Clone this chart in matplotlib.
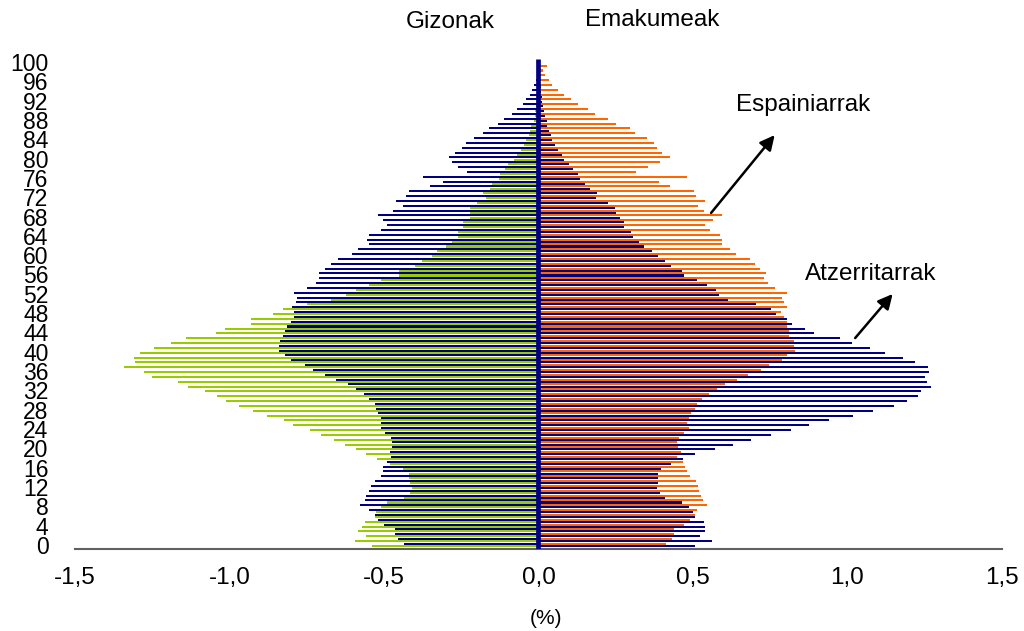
import matplotlib
matplotlib.use("Agg")
import matplotlib.pyplot as plt
from matplotlib.ticker import FuncFormatter

plt.rcParams['font.family'] = ['Liberation Sans', 'DejaVu Sans']
plt.rcParams['axes.unicode_minus'] = False

# ages 0..100
ages = list(range(101))

# Gizonak (men), % of population
men_spanish = [
    0.396, 0.435, 0.454, 0.465, 0.465, 0.500, 0.519, 0.530, 0.547, 0.577,
    0.560, 0.558, 0.547, 0.543, 0.530, 0.511, 0.504, 0.504, 0.489, 0.477,
    0.480, 0.474, 0.474, 0.477, 0.496, 0.508, 0.508, 0.511, 0.519, 0.526,
    0.530, 0.547, 0.566, 0.592, 0.616, 0.654, 0.690, 0.730, 0.757, 0.800,
    0.820, 0.840, 0.840, 0.838, 0.826, 0.820, 0.815, 0.800, 0.790, 0.790,
    0.796, 0.785, 0.780, 0.790, 0.750, 0.720, 0.710, 0.710, 0.690, 0.670,
    0.650, 0.605, 0.585, 0.550, 0.555, 0.550, 0.510, 0.490, 0.504, 0.520,
    0.470, 0.440, 0.460, 0.430, 0.420, 0.350, 0.310, 0.375, 0.230, 0.260,
    0.280, 0.290, 0.270, 0.247, 0.235, 0.210, 0.180, 0.160, 0.130, 0.110,
    0.087, 0.070, 0.050, 0.040, 0.027, 0.020, 0.013, 0.008, 0.005, 0.003,
    0.002]
men_foreign = [
    0.540, 0.595, 0.558, 0.585, 0.570, 0.560, 0.530, 0.527, 0.511, 0.489,
    0.435, 0.415, 0.408, 0.415, 0.420, 0.420, 0.440, 0.480, 0.524, 0.558,
    0.592, 0.627, 0.661, 0.705, 0.738, 0.793, 0.822, 0.880, 0.925, 0.968,
    1.010, 1.040, 1.080, 1.134, 1.165, 1.252, 1.275, 1.340, 1.307, 1.310,
    1.290, 1.243, 1.188, 1.140, 1.045, 1.014, 0.930, 0.930, 0.860, 0.828,
    0.750, 0.670, 0.624, 0.590, 0.547, 0.510, 0.450, 0.450, 0.400, 0.376,
    0.346, 0.327, 0.300, 0.280, 0.260, 0.260, 0.243, 0.243, 0.223, 0.220,
    0.220, 0.200, 0.170, 0.178, 0.158, 0.150, 0.128, 0.124, 0.108, 0.097,
    0.080, 0.070, 0.058, 0.047, 0.040, 0.032, 0.027, 0.024, 0.016, 0.012,
    0.010, 0.008, 0.006, 0.005, 0.004, 0.003, 0.002, 0.002, 0.001, 0.001,
    0.001]

# Emakumeak (women)
women_spanish = [
    0.375, 0.413, 0.433, 0.440, 0.440, 0.470, 0.490, 0.505, 0.512, 0.544,
    0.532, 0.527, 0.520, 0.517, 0.509, 0.490, 0.482, 0.475, 0.467, 0.448,
    0.460, 0.452, 0.448, 0.455, 0.470, 0.486, 0.482, 0.486, 0.494, 0.505,
    0.512, 0.529, 0.551, 0.578, 0.605, 0.643, 0.679, 0.721, 0.747, 0.789,
    0.804, 0.831, 0.826, 0.826, 0.812, 0.811, 0.805, 0.804, 0.793, 0.785,
    0.804, 0.793, 0.789, 0.804, 0.766, 0.743, 0.731, 0.735, 0.716, 0.701,
    0.686, 0.639, 0.620, 0.593, 0.593, 0.589, 0.554, 0.539, 0.566, 0.594,
    0.536, 0.517, 0.539, 0.509, 0.502, 0.425, 0.390, 0.482, 0.317, 0.356,
    0.394, 0.425, 0.401, 0.383, 0.374, 0.352, 0.313, 0.295, 0.251, 0.226,
    0.182, 0.160, 0.128, 0.106, 0.083, 0.064, 0.044, 0.034, 0.022, 0.014,
    0.029]
women_foreign = [
    0.506, 0.563, 0.524, 0.539, 0.539, 0.536, 0.505, 0.500, 0.486, 0.463,
    0.409, 0.394, 0.383, 0.386, 0.386, 0.386, 0.397, 0.428, 0.467, 0.506,
    0.571, 0.628, 0.689, 0.754, 0.816, 0.877, 0.939, 1.019, 1.084, 1.150,
    1.192, 1.227, 1.237, 1.269, 1.257, 1.252, 1.264, 1.261, 1.218, 1.180,
    1.123, 1.072, 1.016, 0.976, 0.893, 0.862, 0.820, 0.804, 0.770, 0.751,
    0.704, 0.613, 0.585, 0.574, 0.544, 0.512, 0.470, 0.463, 0.428, 0.409,
    0.387, 0.367, 0.343, 0.325, 0.305, 0.298, 0.278, 0.278, 0.263, 0.251,
    0.248, 0.224, 0.187, 0.190, 0.167, 0.152, 0.136, 0.128, 0.113, 0.098,
    0.083, 0.076, 0.064, 0.053, 0.044, 0.041, 0.034, 0.029, 0.026, 0.022,
    0.017, 0.014, 0.011, 0.011, 0.009, 0.007, 0.005, 0.004, 0.003, 0.002,
    0.001]

age_ticks = list(range(0, 101, 4))
x_ticks = [-1.5, -1.0, -0.5, 0.0, 0.5, 1.0, 1.5]

navy = '#000080'
green = '#99cc00'
orange = '#ff6600'

fig = plt.figure(figsize=(10.24, 6.31), dpi=100)
ax = fig.add_axes([0.0732, 0.130, 0.9053, 0.781])

# each age: spanish bar slightly lower, foreign bar slightly higher
h = 0.42
y_sp = [a - 0.77 for a in ages]
y_fo = [a - 0.21 for a in ages]
ax.barh(y_sp, [-v for v in men_spanish], height=h, color=navy, linewidth=0)
ax.barh(y_fo, [-v for v in men_foreign], height=h, color=green, linewidth=0)
ax.barh(y_sp, women_spanish, height=h, color=orange, linewidth=0)
ax.barh(y_fo, women_foreign, height=h, color=navy, linewidth=0)

ax.set_xlim(-1.5, 1.5)
ax.set_ylim(-0.83, 101.2)
ax.vlines(0, -0.83, 100.6, color=navy, lw=3.4, zorder=3)

ax.set_xticks(x_ticks)
ax.xaxis.set_major_formatter(FuncFormatter(lambda v, p: f'{v:.1f}'.replace('.', ',')))
ax.set_yticks(age_ticks)
ax.tick_params(axis='y', length=0, pad=19, labelsize=16.5)
ax.tick_params(axis='x', length=0, pad=13, labelsize=17.5)
for s in ['top', 'right', 'left']:
    ax.spines[s].set_visible(False)
ax.spines['bottom'].set_color('#606060')
ax.spines['bottom'].set_linewidth(1.5)

fig.text(450 / 1024, 1 - 22 / 631, 'Gizonak', ha='center', va='center', fontsize=17.5)
fig.text(652 / 1024, 1 - 20 / 631, 'Emakumeak', ha='center', va='center', fontsize=17.5)
fig.text(546 / 1024, 1 - 619 / 631, '(%)', ha='center', va='center', fontsize=15)

ax.text(0.855, 91.1, 'Espainiarrak', ha='center', va='center', fontsize=17.5)
ax.annotate('', xy=(0.77, 85.3), xytext=(0.553, 68.3),
            arrowprops=dict(arrowstyle='-|>', lw=1.8, color='black', mutation_scale=22))
ax.text(1.075, 56.0, 'Atzerritarrak', ha='center', va='center', fontsize=17.5)
ax.annotate('', xy=(1.152, 52.4), xytext=(1.019, 42.4),
            arrowprops=dict(arrowstyle='-|>', lw=1.8, color='black', mutation_scale=22))

fig.savefig('out.png', dpi=100, facecolor='white')
